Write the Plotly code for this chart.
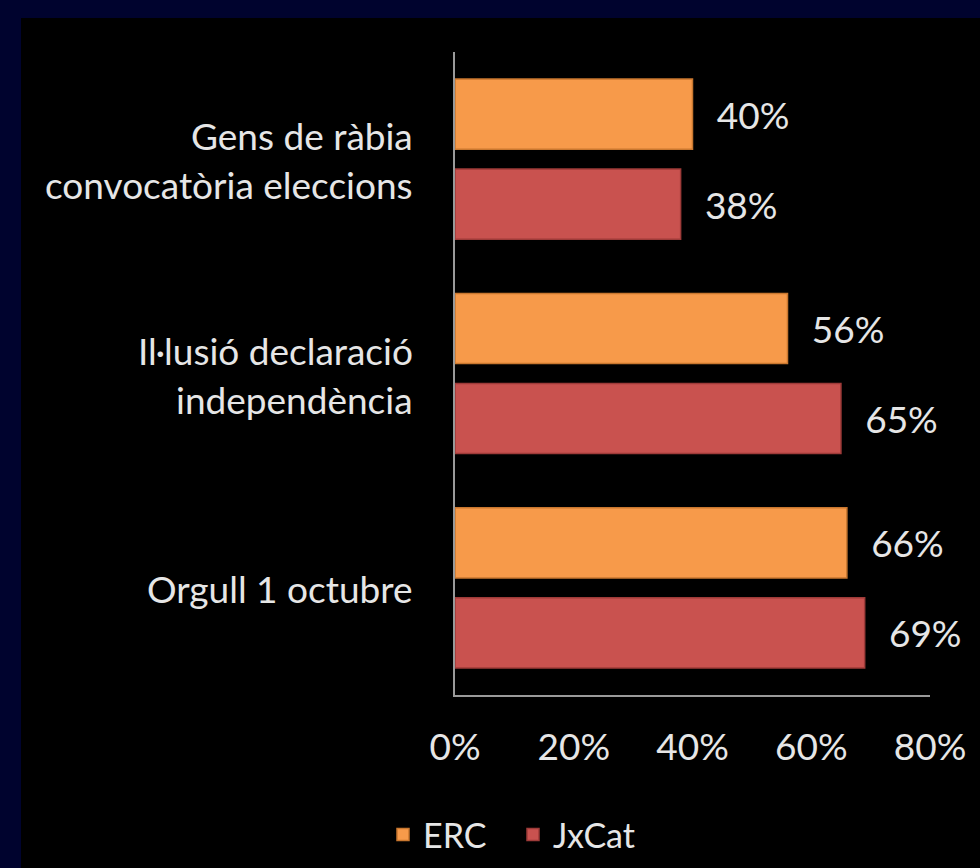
import plotly.graph_objects as go

categories = ["Gens de ràbia<br>convocatòria eleccions",
              "Il·lusió declaració<br>independència",
              "Orgull 1 octubre"]
erc = [0.40, 0.56, 0.66]
jxcat = [0.38, 0.65, 0.69]
x_ticks = [0, 0.2, 0.4, 0.6, 0.8]

FONT = "Lato"
TXT = "#e6e6e6"
pad = "\u00a0\u00a0\u200a"
FS = 37

fig = go.Figure()
fig.add_trace(go.Bar(
    name="ERC", y=categories, x=erc, orientation="h",
    marker=dict(color="#F79A4A", line=dict(color="#c9772f", width=1.5)),
    text=[pad + f"{v:.0%}" for v in erc], textposition="outside",
    textfont=dict(family=FONT, size=FS, color=TXT), cliponaxis=False,
))
fig.add_trace(go.Bar(
    name="JxCat", y=categories, x=jxcat, orientation="h",
    marker=dict(color="#C9524F", line=dict(color="#9e3b39", width=1.5)),
    text=[pad + f"{v:.0%}" for v in jxcat], textposition="outside",
    textfont=dict(family=FONT, size=FS, color=TXT), cliponaxis=False,
))

L, R, T, B = 455, 50, 52, 173
W, H = 980, 868
pw, ph = W - L - R, H - T - B

# black panel over navy background
fig.add_shape(type="rect", xref="paper", yref="paper", layer="below",
              x0=(21 - L) / pw, x1=1.3, y0=-0.4, y1=(H - B - 18) / ph,
              fillcolor="black", line=dict(width=0))

# category labels with explicit line spacing
for c in categories:
    lines = c.split("<br>")
    n = len(lines)
    for i, ln in enumerate(lines):
        fig.add_annotation(
            x=0, xref="paper", y=c, yref="y", xanchor="right", yanchor="middle",
            xshift=-40, yshift=-(i - (n - 1) / 2) * 49 - 1, text=ln, showarrow=False,
            font=dict(family=FONT, size=FS, color=TXT),
        )

fig.update_layout(
    width=W, height=H,
    margin=dict(l=L, r=R, t=T, b=B, autoexpand=False),
    paper_bgcolor="#00032e", plot_bgcolor="black",
    barmode="group", bargap=0.16, bargroupgap=0.22,
    showlegend=True,
    legend=dict(orientation="h", x=(513 - L) / pw, xanchor="center",
                y=(H - B - 835) / ph, yanchor="middle",
                entrywidth=85,
                font=dict(family=FONT, size=34, color=TXT),
                bgcolor="rgba(0,0,0,0)", traceorder="normal"),
    xaxis=dict(range=[0, 0.8], tickvals=x_ticks, tickformat=".0%",
               showgrid=False, zeroline=False, showline=True,
               linecolor="#9a9a9a", linewidth=2, ticks="",
               ticklabelstandoff=19,
               tickfont=dict(family=FONT, size=FS, color=TXT)),
    yaxis=dict(type="category", autorange="reversed", showticklabels=False,
               showgrid=False, zeroline=False, showline=True,
               linecolor="#9a9a9a", linewidth=2, ticks=""),
)

fig.write_html("out.html", config={"displayModeBar": False},
               post_script="document.body.style.margin='0';document.body.style.background='#00032e';")
